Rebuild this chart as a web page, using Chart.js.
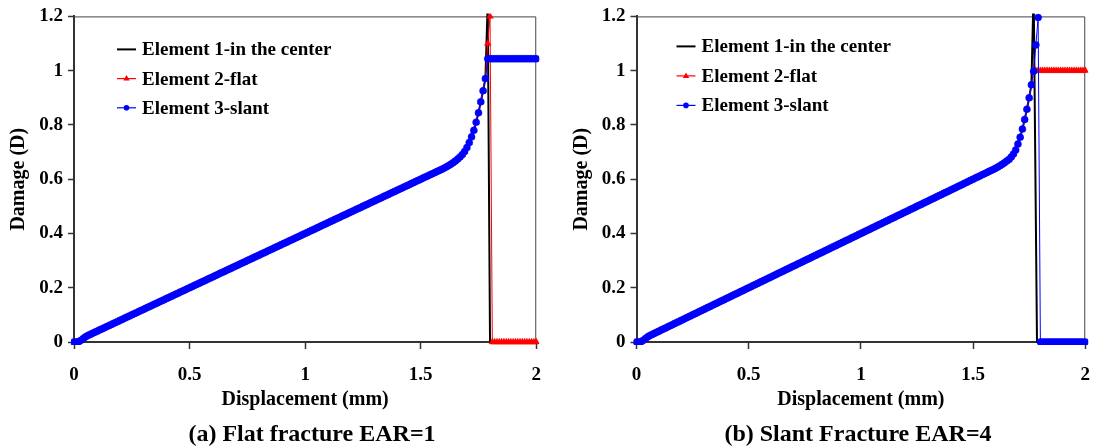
<!DOCTYPE html>
<html>
<head>
<meta charset="utf-8">
<script src="https://cdn.jsdelivr.net/npm/chart.js@4.4.0/dist/chart.umd.min.js"></script>
<style>
  body { margin: 0; background: #fff; }
  #wrap { position: relative; width: 1105px; height: 448px; overflow: hidden; }
  canvas { position: absolute; top: 0; }
  .cap {
    position: absolute; top: 420px; line-height: 30px; white-space: nowrap;
    font: bold 24px "Liberation Serif", "Times New Roman", serif;
    transform: translateX(-50%);
  }
</style>
</head>
<body>
<div id="wrap">
  <canvas id="left" width="556" height="448" style="left:0"></canvas>
  <canvas id="right" width="549" height="448" style="left:556px"></canvas>
  <div class="cap" style="left:312px">(a) Flat fracture EAR=1</div>
  <div class="cap" style="left:858px">(b) Slant Fracture EAR=4</div>
</div>
<script>
// axes
const xTicks = [0, 0.5, 1, 1.5, 2];
const xTickLabels = ['0', '0.5', '1', '1.5', '2'];
const yTicks = [0, 0.2, 0.4, 0.6, 0.8, 1, 1.2];
const yTickLabels = ['0', '0.2', '0.4', '0.6', '0.8', '1', '1.2'];
const seriesNames = ['Element 1-in the center', 'Element 2-flat', 'Element 3-slant'];

// shared part of the damage curve (all elements, both cases), displacement 0..1.65 mm
const dispCommon = [
  0, 0.01, 0.02, 0.03, 0.04, 0.05, 0.06, 0.07, 0.08, 0.09,
  0.10, 0.11, 0.12, 0.13, 0.14, 0.15, 0.16, 0.17, 0.18, 0.19,
  0.20, 0.21, 0.22, 0.23, 0.24, 0.25, 0.26, 0.27, 0.28, 0.29,
  0.30, 0.31, 0.32, 0.33, 0.34, 0.35, 0.36, 0.37, 0.38, 0.39,
  0.40, 0.41, 0.42, 0.43, 0.44, 0.45, 0.46, 0.47, 0.48, 0.49,
  0.50, 0.51, 0.52, 0.53, 0.54, 0.55, 0.56, 0.57, 0.58, 0.59,
  0.60, 0.61, 0.62, 0.63, 0.64, 0.65, 0.66, 0.67, 0.68, 0.69,
  0.70, 0.71, 0.72, 0.73, 0.74, 0.75, 0.76, 0.77, 0.78, 0.79,
  0.80, 0.81, 0.82, 0.83, 0.84, 0.85, 0.86, 0.87, 0.88, 0.89,
  0.90, 0.91, 0.92, 0.93, 0.94, 0.95, 0.96, 0.97, 0.98, 0.99,
  1.00, 1.01, 1.02, 1.03, 1.04, 1.05, 1.06, 1.07, 1.08, 1.09,
  1.10, 1.11, 1.12, 1.13, 1.14, 1.15, 1.16, 1.17, 1.18, 1.19,
  1.20, 1.21, 1.22, 1.23, 1.24, 1.25, 1.26, 1.27, 1.28, 1.29,
  1.30, 1.31, 1.32, 1.33, 1.34, 1.35, 1.36, 1.37, 1.38, 1.39,
  1.40, 1.41, 1.42, 1.43, 1.44, 1.45, 1.46, 1.47, 1.48, 1.49,
  1.50, 1.51, 1.52, 1.53, 1.54, 1.55, 1.56, 1.57, 1.58, 1.59,
  1.60, 1.61, 1.62, 1.63, 1.64, 1.65
];
const damageCommon = [
  0, 0, 0.001, 0.006, 0.013, 0.019, 0.024, 0.028, 0.032, 0.036,
  0.040, 0.044, 0.048, 0.052, 0.056, 0.060, 0.064, 0.068, 0.072, 0.076,
  0.080, 0.084, 0.088, 0.092, 0.096, 0.100, 0.104, 0.108, 0.112, 0.116,
  0.120, 0.124, 0.128, 0.132, 0.136, 0.140, 0.144, 0.148, 0.152, 0.156,
  0.160, 0.164, 0.168, 0.172, 0.176, 0.180, 0.184, 0.188, 0.192, 0.196,
  0.200, 0.204, 0.208, 0.212, 0.216, 0.220, 0.224, 0.228, 0.232, 0.236,
  0.240, 0.244, 0.248, 0.252, 0.256, 0.260, 0.264, 0.268, 0.272, 0.276,
  0.280, 0.284, 0.288, 0.292, 0.296, 0.300, 0.304, 0.308, 0.312, 0.316,
  0.320, 0.324, 0.328, 0.332, 0.336, 0.340, 0.344, 0.348, 0.352, 0.356,
  0.360, 0.364, 0.368, 0.372, 0.376, 0.380, 0.384, 0.388, 0.392, 0.396,
  0.400, 0.404, 0.408, 0.412, 0.416, 0.420, 0.424, 0.428, 0.432, 0.436,
  0.440, 0.444, 0.448, 0.452, 0.456, 0.460, 0.464, 0.468, 0.472, 0.476,
  0.480, 0.484, 0.488, 0.492, 0.496, 0.500, 0.504, 0.508, 0.512, 0.516,
  0.520, 0.524, 0.528, 0.532, 0.536, 0.540, 0.544, 0.548, 0.552, 0.556,
  0.560, 0.564, 0.568, 0.572, 0.576, 0.580, 0.584, 0.588, 0.592, 0.596,
  0.600, 0.604, 0.608, 0.612, 0.616, 0.620, 0.624, 0.628, 0.632, 0.636,
  0.640, 0.645, 0.650, 0.655, 0.661, 0.667
];

// (a) flat fracture: knee of the curve
const flatKneeDisp = [1.66, 1.67, 1.68, 1.69, 1.70, 1.71, 1.72, 1.73, 1.74, 1.75, 1.76, 1.77, 1.78];
const flatKneeDamage = [0.674, 0.682, 0.691, 0.702, 0.717, 0.735, 0.756, 0.780, 0.810, 0.845, 0.885, 0.926, 0.971];
// (b) slant fracture: knee of the curve
const slantKneeDisp = [1.66, 1.67, 1.68, 1.69, 1.70, 1.71, 1.72, 1.73, 1.74, 1.75, 1.76];
const slantKneeDamage = [0.673, 0.682, 0.693, 0.708, 0.730, 0.755, 0.785, 0.820, 0.858, 0.900, 0.948];

const tailDisp = [1.81, 1.82, 1.83, 1.84, 1.85, 1.86, 1.87, 1.88, 1.89, 1.90,
                  1.91, 1.92, 1.93, 1.94, 1.95, 1.96, 1.97, 1.98, 1.99, 2.00];

// (a) tails after failure
const flatE1Disp = [1.79, 1.80, 2.00];
const flatE1Damage = [1.25, 0, 0];
const flatE2Disp = [1.79, 1.80].concat(tailDisp);
const flatE2Damage = [1.10, 1.20, 0, 0, 0, 0, 0, 0, 0, 0, 0, 0, 0, 0, 0, 0, 0, 0, 0, 0, 0, 0];
const flatE3Disp = [1.79, 1.80].concat(tailDisp);
const flatE3Damage = [1.044, 1.044, 1.044, 1.044, 1.044, 1.044, 1.044, 1.044, 1.044, 1.044, 1.044,
                      1.044, 1.044, 1.044, 1.044, 1.044, 1.044, 1.044, 1.044, 1.044, 1.044, 1.044];

// (b) tails after failure
const slantE1Disp = [1.77, 1.785, 2.00];
const slantE1Damage = [1.30, 0, 0];
const slantE2Disp = [1.77, 1.78, 1.79, 1.80].concat(tailDisp);
const slantE2Damage = [1.0, 1.0, 1.0, 1.0, 1.0, 1.0, 1.0, 1.0, 1.0, 1.0, 1.0, 1.0,
                       1.0, 1.0, 1.0, 1.0, 1.0, 1.0, 1.0, 1.0, 1.0, 1.0, 1.0, 1.0];
const slantE3Disp = [1.77, 1.78, 1.79, 1.80].concat(tailDisp);
const slantE3Damage = [0.998, 1.095, 1.196, 0, 0, 0, 0, 0, 0, 0, 0, 0,
                       0, 0, 0, 0, 0, 0, 0, 0, 0, 0, 0, 0];

const serif = '"Liberation Serif", "Times New Roman", serif';
Chart.defaults.font.family = serif;
Chart.defaults.font.weight = 'bold';
Chart.defaults.color = '#000';

function pts(xs, ys) {
  return xs.map((x, i) => ({ x: x, y: ys[i] }));
}

// frame on top and right of the plot
const frame = {
  id: 'frame',
  beforeDatasetsDraw(chart) {
    const { ctx, chartArea: a } = chart;
    ctx.save();
    ctx.strokeStyle = '#444';
    ctx.lineWidth = 1;
    ctx.beginPath();
    ctx.moveTo(a.left, a.top + 0.5);
    ctx.lineTo(a.right - 0.5, a.top + 0.5);
    ctx.lineTo(a.right - 0.5, a.bottom);
    ctx.stroke();
    ctx.restore();
  }
};

// legend drawn inside the plot, top left
const insideLegend = {
  id: 'insideLegend',
  afterDatasetsDraw(chart, args, opts) {
    const { ctx, chartArea: a } = chart;
    ctx.save();
    ctx.font = 'bold 19px ' + serif;
    ctx.textBaseline = 'middle';
    chart.data.datasets.forEach((ds, i) => {
      const y = a.top + opts.top + i * opts.gap;
      const x0 = a.left + opts.left;
      const x1 = x0 + 19;
      ctx.strokeStyle = ds.borderColor;
      ctx.lineWidth = i === 0 ? 2 : 1.2;
      ctx.beginPath();
      ctx.moveTo(x0, y);
      ctx.lineTo(x1, y);
      ctx.stroke();
      const cx = (x0 + x1) / 2;
      ctx.fillStyle = ds.borderColor;
      if (ds.pointStyle === 'triangle') {
        ctx.beginPath();
        ctx.moveTo(cx, y - 3.5);
        ctx.lineTo(cx + 3.2, y + 2);
        ctx.lineTo(cx - 3.2, y + 2);
        ctx.closePath();
        ctx.fill();
      } else if (ds.pointStyle === 'circle') {
        ctx.beginPath();
        ctx.arc(cx, y, 2.8, 0, Math.PI * 2);
        ctx.fill();
      }
      ctx.fillStyle = '#000';
      ctx.fillText(ds.label, x0 + opts.textGap, y + 1);
    });
    ctx.restore();
  }
};

function makeChart(id, e1, e2, e3, pad, yWidth, legendPos) {
  new Chart(document.getElementById(id), {
    type: 'line',
    data: {
      datasets: [
        {
          label: seriesNames[0], data: e1, order: 3,
          borderColor: '#000000', borderWidth: 2, pointRadius: 0
        },
        {
          label: seriesNames[1], data: e2, order: 2,
          borderColor: '#ff0000', backgroundColor: '#ff0000', borderWidth: 1,
          pointStyle: 'triangle', pointRadius: 3.8, pointBorderWidth: 0.5
        },
        {
          label: seriesNames[2], data: e3, order: 1,
          borderColor: '#0000ff', backgroundColor: '#0000ff', borderWidth: 1,
          pointStyle: 'circle', pointRadius: 3.5, pointBorderWidth: 0.5
        }
      ]
    },
    options: {
      responsive: false,
      animation: false,
      devicePixelRatio: 1,
      elements: { line: { tension: 0 } },
      datasets: { line: { clip: 3 } },
      layout: { padding: pad },
      plugins: {
        legend: { display: false },
        tooltip: { enabled: false },
        insideLegend: legendPos
      },
      scales: {
        x: {
          type: 'linear', min: 0, max: 2,
          afterBuildTicks: (s) => { s.ticks = xTicks.map((v) => ({ value: v })); },
          afterFit: (s) => { s.height = 74; },
          ticks: {
            padding: 15, maxRotation: 0, autoSkip: false,
            font: { size: 19, weight: 'bold' },
            callback: (v) => xTickLabels[xTicks.indexOf(v)]
          },
          grid: { drawOnChartArea: false, tickLength: 7, tickWidth: 1.5, tickColor: '#333' },
          border: { color: '#333', width: 2 },
          title: {
            display: true, text: 'Displacement (mm)',
            font: { size: 20, weight: 'bold' }, padding: { top: 0, bottom: 4 }
          }
        },
        y: {
          type: 'linear', min: 0, max: 1.2,
          afterBuildTicks: (s) => { s.ticks = yTicks.map((v) => ({ value: v })); },
          afterFit: (s) => { s.width = yWidth; },
          ticks: {
            padding: 5, autoSkip: false,
            font: { size: 19, weight: 'bold' },
            callback: (v) => yTickLabels[yTicks.indexOf(v)]
          },
          grid: { drawOnChartArea: false, tickLength: 6, tickWidth: 1.5, tickColor: '#333' },
          border: { color: '#333', width: 2 },
          title: {
            display: true, text: 'Damage (D)',
            font: { size: 20, weight: 'bold' }, padding: { top: 7, bottom: 0 }
          }
        }
      }
    },
    plugins: [frame, insideLegend]
  });
}

makeChart('left',
  pts(dispCommon.concat(flatKneeDisp, flatE1Disp), damageCommon.concat(flatKneeDamage, flatE1Damage)),
  pts(dispCommon.concat(flatKneeDisp, flatE2Disp), damageCommon.concat(flatKneeDamage, flatE2Damage)),
  pts(dispCommon.concat(flatKneeDisp, flatE3Disp), damageCommon.concat(flatKneeDamage, flatE3Damage)),
  { left: 0, right: 14, top: 14, bottom: 32 }, 74,
  { left: 43, top: 33, gap: 29.2, textGap: 25 });

makeChart('right',
  pts(dispCommon.concat(slantKneeDisp, slantE1Disp), damageCommon.concat(slantKneeDamage, slantE1Damage)),
  pts(dispCommon.concat(slantKneeDisp, slantE2Disp), damageCommon.concat(slantKneeDamage, slantE2Damage)),
  pts(dispCommon.concat(slantKneeDisp, slantE3Disp), damageCommon.concat(slantKneeDamage, slantE3Damage)),
  { left: 7, right: 5, top: 14, bottom: 32 }, 73.5,
  { left: 40, top: 30, gap: 29.5, textGap: 25 });
</script>
</body>
</html>
